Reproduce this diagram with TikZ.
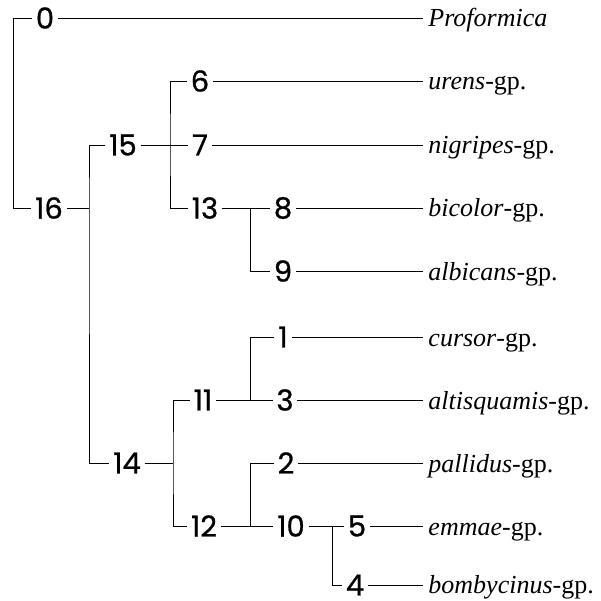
\documentclass[tikz,border=0pt]{standalone}
\usepackage{fontspec}
\setmainfont{Liberation Serif}
\newfontfamily\numfont[FakeBold=0.8]{Poppins}
\begin{document}
\begin{tikzpicture}[x=1pt,y=-1pt,line width=0.9pt,
  num/.style={font=\numfont\fontsize{29}{29}\selectfont,inner xsep=3.5pt,inner ysep=0pt},
  leaf/.style={font=\fontsize{26}{26}\selectfont,anchor=base west,inner xsep=5pt,inner ysep=0pt}]
\useasboundingbox (0,0) rectangle (600,601);
% internal and terminal numbers
\node[num] (n0)  at (45,18)  {0};
\node[num] (n16) at (49,208) {16};
\node[num] (n15) at (123,145) {15};
\node[num] (n6)  at (200,81) {6};
\node[num] (n7)  at (200,145) {7};
\node[num] (n13) at (205,208) {13};
\node[num] (n8)  at (283,208) {8};
\node[num] (n9)  at (283,271) {9};
\node[num] (n14) at (127,463) {14};
\node[num] (n11) at (203,400) {11};
\node[num] (n12) at (204,526) {12};
\node[num] (n1)  at (283,337) {1};
\node[num] (n3)  at (285,400) {3};
\node[num] (n2)  at (286,463) {2};
\node[num] (n10) at (291,526) {10};
\node[num] (n5)  at (357,526) {5};
\node[num] (n4)  at (355,585) {4};
% leaf labels
\node[leaf] (l0) at (423,27)  {\textit{Proformica}};
\node[leaf] (l6) at (423,90)  {\textit{urens}-gp.};
\node[leaf] (l7) at (423,154) {\textit{nigripes}-gp.};
\node[leaf] (l8) at (423,217) {\textit{bicolor}-gp.};
\node[leaf] (l9) at (423,280) {\textit{albicans}-gp.};
\node[leaf] (l1) at (423,346) {\textit{cursor}-gp.};
\node[leaf] (l3) at (423,409) {\textit{altisquamis}-gp.};
\node[leaf] (l2) at (423,472) {\textit{pallidus}-gp.};
\node[leaf] (l5) at (423,535) {\textit{emmae}-gp.};
\node[leaf] (l4) at (423,593) {\textit{bombycinus}-gp.};
% branch points
\coordinate (c16) at (13,208);
\coordinate (v16) at (89,208);
\coordinate (v15) at (170,145);
\coordinate (v13) at (250,208);
\coordinate (v14) at (173,463);
\coordinate (v11) at (250,400);
\coordinate (v12) at (250,526);
\coordinate (v10) at (332,526);
% tree
\draw (n0.west) -| (c16) -- (n16.west);
\draw (n16.east) -- (v16);
\draw (n15.west) -| (v16) |- (n14.west);
\draw (n15.east) -- (n7.west);
\draw (n6.west) -| (v15) |- (n13.west);
\draw (n13.east) -- (n8.west);
\draw (v13) |- (n9.west);
\draw (n14.east) -- (v14);
\draw (n11.west) -| (v14) |- (n12.west);
\draw (n11.east) -- (n3.west);
\draw (n1.west) -| (v11);
\draw (n12.east) -- (n10.west);
\draw (n2.west) -| (v12);
\draw (n10.east) -- (n5.west);
\draw (v10) |- (n4.west);
% leaf connectors
\foreach \n/\l in {n0/l0,n6/l6,n7/l7,n8/l8,n9/l9,n1/l1,n3/l3,n2/l2,n5/l5,n4/l4}
  \draw (\n.east) -- (\n.east -| \l.west);
\end{tikzpicture}
\end{document}
